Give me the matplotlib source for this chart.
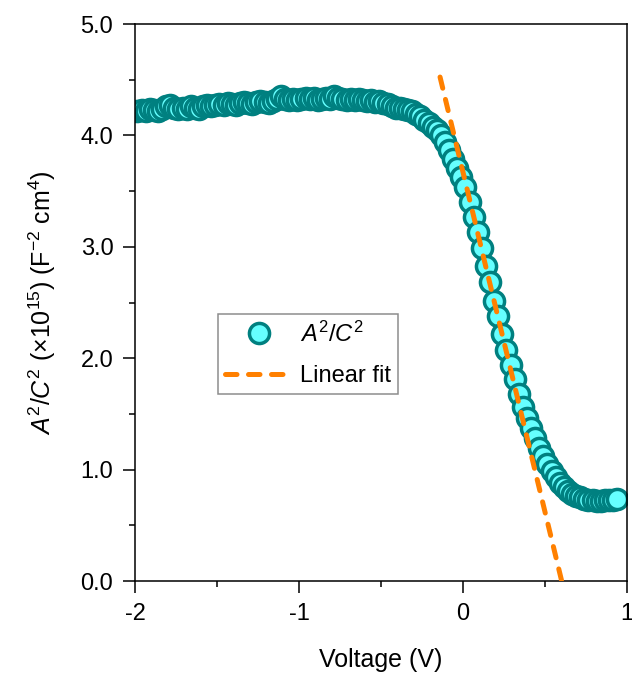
import numpy as np
import matplotlib
matplotlib.use("Agg")
import matplotlib.pyplot as plt
from matplotlib.ticker import MultipleLocator, FormatStrFormatter

plt.rcParams['font.family'] = ['Liberation Sans', 'DejaVu Sans']
plt.rcParams['mathtext.fontset'] = 'custom'
plt.rcParams['mathtext.rm'] = 'Liberation Sans'
plt.rcParams['mathtext.it'] = 'Liberation Sans:italic'
plt.rcParams['axes.unicode_minus'] = False

# Mott-Schottky sweep: bias voltage (V) and A^2/C^2 (x1e15 F^-2 cm^4)
v_start = -1.985
v_step = 0.025
a2c2 = [
    4.22, 4.23, 4.22, 4.24, 4.23, 4.22, 4.24, 4.26, 4.27, 4.25,
    4.24, 4.25, 4.24, 4.26, 4.25, 4.24, 4.26, 4.27, 4.26, 4.27,
    4.28, 4.27, 4.29, 4.28, 4.27, 4.29, 4.30, 4.29, 4.28, 4.30,
    4.31, 4.30, 4.29, 4.31, 4.33, 4.35, 4.33, 4.32, 4.33, 4.32,
    4.33, 4.34, 4.33, 4.34, 4.32, 4.33, 4.34, 4.33, 4.35, 4.34,
    4.33, 4.32, 4.33, 4.32, 4.33, 4.32, 4.31, 4.32, 4.30, 4.31,
    4.29, 4.28, 4.26, 4.25, 4.25, 4.24, 4.23, 4.22, 4.19, 4.17,
    4.14, 4.11, 4.08, 4.05, 4.00, 3.94, 3.87, 3.79, 3.71, 3.63,
    3.54, 3.40, 3.27, 3.13, 2.99, 2.83, 2.68, 2.51, 2.38, 2.22,
    2.07, 1.94, 1.81, 1.68, 1.56, 1.46, 1.37, 1.28, 1.19, 1.12,
    1.05, 0.99, 0.93, 0.88, 0.84, 0.81, 0.78, 0.76, 0.75, 0.74,
    0.73, 0.73, 0.72, 0.72, 0.73, 0.73, 0.73, 0.74,
]
voltage = v_start + v_step * np.arange(len(a2c2))

# Linear fit of the depletion region
fit_slope = -6.10
fit_intercept = 3.67
fit_range = [-0.14, 0.602]

fig = plt.figure(figsize=(6.32, 6.77), dpi=100)
ax = fig.add_axes([0.2136, 0.1418, 0.7785, 0.8227])

ax.plot(voltage, a2c2, linestyle='none', marker='o', markersize=14.5,
        markerfacecolor='#66FFFF', markeredgecolor='#008080',
        markeredgewidth=2.5, label=r'$A^2/C^2$', zorder=2)

fx = np.array(fit_range)
ax.plot(fx, fit_slope * fx + fit_intercept, color='#FF8000', linewidth=3.6,
        linestyle=(0, (2.3, 2.3)), dash_capstyle='round',
        label='Linear fit', zorder=3)

ax.set_xlim(-2, 1)
ax.set_ylim(0, 5)
ax.xaxis.set_major_locator(MultipleLocator(1))
ax.xaxis.set_minor_locator(MultipleLocator(0.5))
ax.yaxis.set_major_locator(MultipleLocator(1))
ax.yaxis.set_minor_locator(MultipleLocator(0.5))
ax.yaxis.set_major_formatter(FormatStrFormatter('%.1f'))

ax.tick_params(which='both', direction='out', top=False, right=False,
               width=1.1, labelsize=17)
ax.tick_params(which='major', length=8.6, pad=7)
ax.tick_params(which='minor', length=4.3)
for sp in ax.spines.values():
    sp.set_linewidth(1.1)

ax.set_xlabel('Voltage (V)', fontsize=18, labelpad=17)
ax.set_ylabel(r'$A^2/C^2$ (×10$^{15}$) (F$^{-2}$ cm$^4$)', fontsize=18,
              labelpad=16)

leg = ax.legend(loc='upper left', bbox_to_anchor=(0.169, 0.479),
                borderaxespad=0, fontsize=17, handlelength=2.85,
                handletextpad=0.3, labelspacing=0.8, borderpad=0.3,
                fancybox=False, frameon=True, numpoints=1)
leg.get_frame().set_edgecolor('#707070')
leg.get_frame().set_linewidth(1.1)

fig.savefig('out.png', dpi=100)
